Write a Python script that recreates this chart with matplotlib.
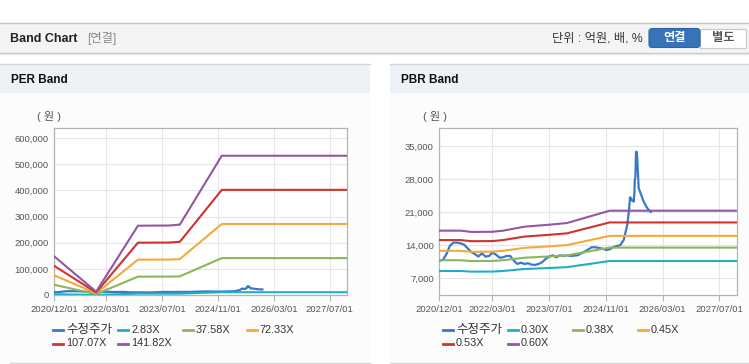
import numpy as np
import pandas as pd
import matplotlib
matplotlib.use("Agg")
import matplotlib.pyplot as plt
from matplotlib.patches import Rectangle, FancyBboxPatch

plt.rcParams['font.family'] = ['Liberation Sans', 'Noto Sans CJK KR']

W, H = 749, 364

# ---- data ----
price_dates = ['2020-12-01', '2021-01-01', '2021-02-01', '2021-03-01', '2021-04-01', '2021-05-01',
               '2021-06-01', '2021-07-01', '2021-08-01', '2021-09-01', '2021-10-01', '2021-11-01',
               '2021-12-01', '2022-01-01', '2022-02-01', '2022-03-01', '2022-04-01', '2022-05-01',
               '2022-06-01', '2022-07-01', '2022-08-01', '2022-09-01', '2022-10-01', '2022-11-01',
               '2022-12-01', '2023-01-01', '2023-02-01', '2023-03-01', '2023-04-01', '2023-05-01',
               '2023-06-01', '2023-07-01', '2023-08-01', '2023-09-01', '2023-10-01', '2023-11-01',
               '2023-12-01', '2024-01-01', '2024-02-01', '2024-03-01', '2024-04-01', '2024-05-01',
               '2024-06-01', '2024-07-01', '2024-08-01', '2024-09-01', '2024-10-01', '2024-11-01',
               '2024-12-01', '2025-01-01', '2025-02-01', '2025-03-01', '2025-04-01', '2025-05-01',
               '2025-05-15', '2025-05-25', '2025-06-01', '2025-06-10', '2025-06-20', '2025-06-25',
               '2025-07-01', '2025-07-05', '2025-07-10', '2025-07-15', '2025-07-20', '2025-07-25',
               '2025-08-01', '2025-08-07', '2025-08-15', '2025-09-01', '2025-09-15', '2025-10-01',
               '2025-10-15', '2025-11-01', '2025-11-15', '2025-11-20']
price = [10748, 10900, 12160, 13860, 14570, 14570, 14420, 14140, 13360, 12590, 12160, 11600,
         12300, 11600, 11740, 12450, 12020, 11380, 11450, 11740, 11740, 10750, 10040, 10320,
         10040, 10180, 9900, 9830, 10040, 10390, 11100, 11600, 11880, 11450, 11880, 11740,
         11880, 11740, 11810, 11880, 12300, 12660, 13150, 13580, 13580, 13430, 13290, 13010,
         13150, 13580, 13860, 14000, 15130, 18310, 21140, 24180, 23970, 23480, 23620, 23260,
         25030, 27860, 28570, 33660, 33870, 32810, 29270, 26090, 25600, 24470, 23480, 22700,
         22060, 21500, 21140, 21070]

eps_dates = ['2020-12-01', '2021-12-01', '2022-12-01', '2023-09-01', '2023-12-01', '2024-12-01', '2027-12-31']
eps = [1040, 90, 1870, 1875, 1900, 3758, 3758]
per_mults = [2.83, 37.58, 72.33, 107.07, 141.82]

bps_dates = ['2020-12-01', '2021-06-01', '2021-09-01', '2022-03-01', '2022-06-01', '2022-12-01',
             '2023-07-01', '2023-12-01', '2024-12-01', '2027-12-31']
bps = [28500, 28500, 28050, 28100, 28500, 29900, 30600, 31200, 35550, 35550]
pbr_mults = [0.30, 0.38, 0.45, 0.53, 0.60]

tick_dates = ['2020-12-01', '2022-03-01', '2023-07-01', '2024-11-01', '2026-03-01', '2027-07-01']
tick_labels = ['2020/12/01', '2022/03/01', '2023/07/01', '2024/11/01', '2026/03/01', '2027/07/01']

price_color = '#3878c8'
band_colors = ['#1eb0c2', '#8db55a', '#f2aa3c', '#d2322d', '#9455a2']

fig = plt.figure(figsize=(W / 100, H / 100), dpi=100)
fig.patch.set_facecolor('white')

# background layer in pixel coordinates
bg = fig.add_axes([0, 0, 1, 1])
bg.set_xlim(0, W)
bg.set_ylim(H, 0)
bg.axis('off')

bg.add_patch(Rectangle((0, 22.5), W, 30, fc='#f4f4f4', ec='none'))
bg.plot([0, W], [22.5, 22.5], color='#c4c4c4', lw=1)
bg.plot([0, W], [52.5, 52.5], color='#c8c8c8', lw=1)
bg.plot([0, W], [53.5, 53.5], color='#e6e6e6', lw=1)
bg.text(10, 38.5, 'Band Chart', fontsize=9, fontweight='bold', color='#222', va='center')
bg.text(87, 38.5, '[연결]', fontsize=8.8, color='#888', va='center')
bg.text(643, 38.5, '단위 : 억원, 배, %', fontsize=8.8, color='#333', va='center', ha='right')
bg.add_patch(Rectangle((700, 28.5), 46, 19, fc='white', ec='#c8c8c8', lw=0.8))
bg.add_patch(FancyBboxPatch((649, 28.5), 51, 19, boxstyle='round,pad=0,rounding_size=3',
                            fc='#3673b8', ec='#2e64a3', lw=0.8))
bg.text(674.5, 38.5, '연결', fontsize=8.8, fontweight='bold', color='white', ha='center', va='center')
bg.text(723, 38.5, '별도', fontsize=8.8, fontweight='bold', color='#555', ha='center', va='center')

for x0, x1, title in [(0, 370, 'PER Band'), (390, 749, 'PBR Band')]:
    bg.add_patch(Rectangle((x0, 63.5), x1 - x0, 300, fc='#fcfcfc', ec='none'))
    bg.add_patch(Rectangle((x0, 63.5), x1 - x0, 29.5, fc='#eef1f6', ec='none'))
    bg.plot([x0, x1], [63.5, 63.5], color='#d4d4d4', lw=1)
    bg.plot([x0 + 10 if x0 == 0 else x0, x1], [363, 363], color='#d8d8d8', lw=1)
    bg.text(x0 + 11, 80, title, fontsize=8.5, fontweight='bold', color='#111', va='center')


def px_axes(x0, y0, x1, y1):
    return fig.add_axes([x0 / W, 1 - y1 / H, (x1 - x0) / W, (y1 - y0) / H])


def style_axes(ax, ylim, yticks):
    ax.set_facecolor('white')
    ax.set_xlim(pd.Timestamp('2020-12-01'), pd.Timestamp('2027-12-01'))
    ax.set_ylim(*ylim)
    ax.set_yticks(yticks)
    ax.set_yticklabels([f'{v:,}' for v in yticks])
    ax.set_xticks(pd.to_datetime(tick_dates))
    ax.set_xticklabels(tick_labels)
    ax.grid(True, color='#e6e6e6', lw=0.8)
    ax.set_axisbelow(True)
    for s in ax.spines.values():
        s.set_color('#b4b4b4')
        s.set_linewidth(0.9)
    ax.tick_params(axis='x', length=4, color='#b4b4b4', labelsize=6.8, labelcolor='#555', pad=3)
    ax.tick_params(axis='y', length=0, labelsize=6.8, labelcolor='#555', pad=4)


def draw_chart(ax, base_dates, base, mults):
    ax.plot(pd.to_datetime(price_dates), price, color=price_color, lw=1.6, zorder=3)
    for m, c in zip(mults, band_colors):
        ax.plot(pd.to_datetime(base_dates), np.array(base) * m, color=c, lw=1.5, zorder=3)


def draw_legend(x_marks, labels):
    colors = [price_color] + band_colors
    for i, (lab, c) in enumerate(zip(labels, colors)):
        row, col = divmod(i, 4)
        xm = x_marks[col]
        y = 330 + row * 13.5
        bg.plot([xm, xm + 10], [y, y], color=c, lw=2, zorder=5)
        fs = 9 if i == 0 else 7.8
        bg.text(xm + 13, y, lab, fontsize=fs, color='#333', va='center', zorder=5)


ax1 = px_axes(54.3, 128.3, 347.3, 295)
draw_chart(ax1, eps_dates, eps, per_mults)
style_axes(ax1, (0, 638000), list(range(0, 600001, 100000)))
bg.text(37, 117, '( 원 )', fontsize=8, color='#555', va='center')
draw_legend([53, 118, 183, 247], ['수정주가'] + [f'{m:.2f}X' for m in per_mults])

ax2 = px_axes(439.3, 128.3, 737.3, 295)
draw_chart(ax2, bps_dates, bps, pbr_mults)
style_axes(ax2, (3460, 38800), list(range(7000, 35001, 7000)))
bg.text(423, 117, '( 원 )', fontsize=8, color='#555', va='center')
draw_legend([443, 508, 573, 638], ['수정주가'] + [f'{m:.2f}X' for m in pbr_mults])

fig.savefig('out.png', dpi=100)
